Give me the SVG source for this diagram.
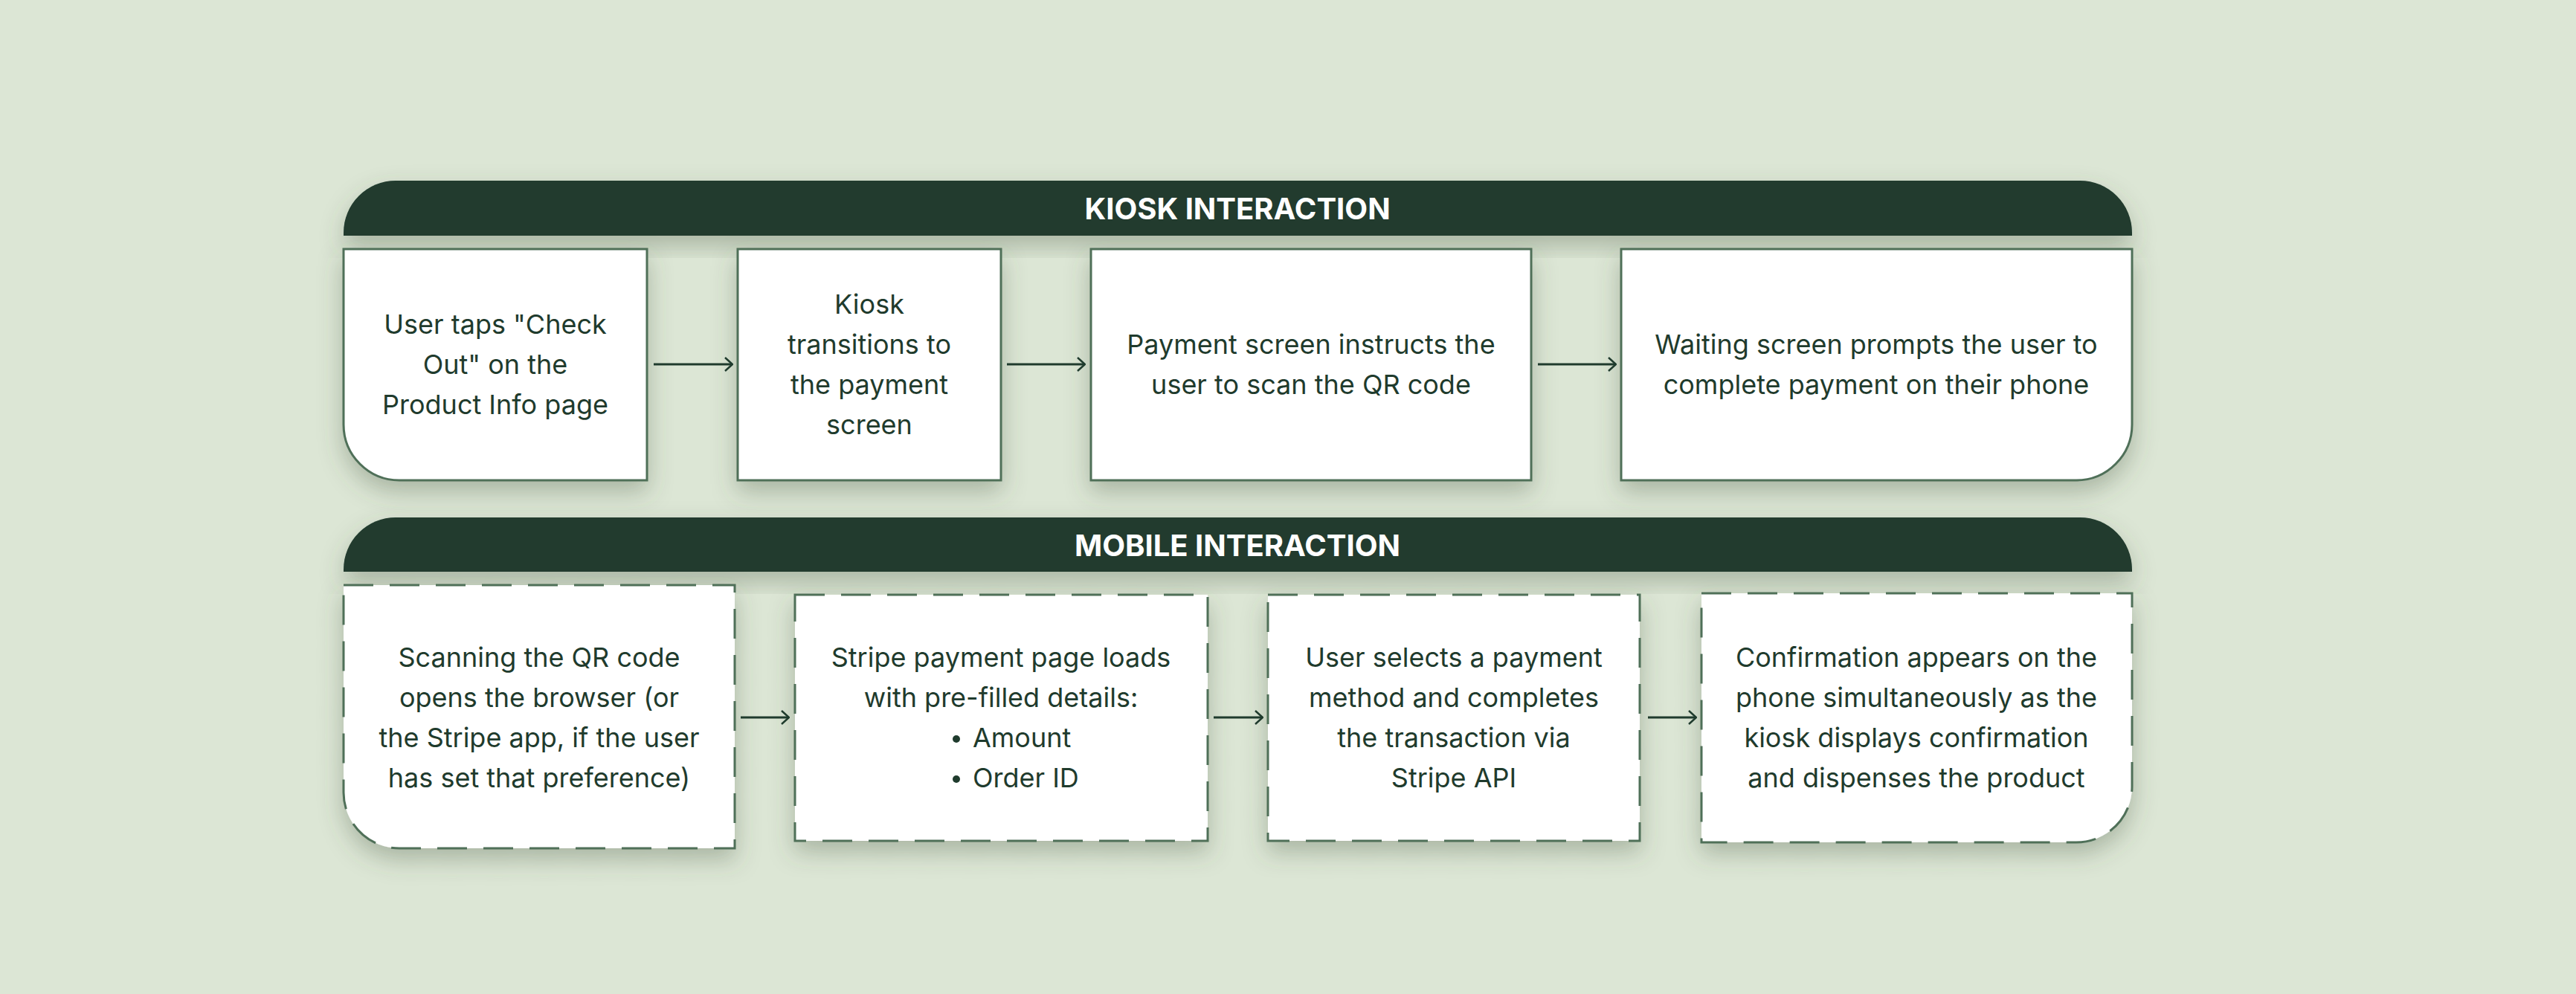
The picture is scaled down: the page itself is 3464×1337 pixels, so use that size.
<svg xmlns="http://www.w3.org/2000/svg" width="3464" height="1337" viewBox="0 0 3464 1337">
<style>
.bg{fill:#dce6d5}
.hdr{fill:#203b2e;filter:url(#sh)}
.ht{font-family:Inter,"Liberation Sans",sans-serif;font-weight:700;font-size:40px;fill:#ffffff;text-anchor:middle;dominant-baseline:central}
.box{fill:#ffffff;stroke:#4f6f59;stroke-width:3;filter:url(#sh)}
.dash{stroke-dasharray:40 22}
.t{font-family:Inter,"Liberation Sans",sans-serif;font-size:36px;fill:#1f3b2d;text-anchor:middle;dominant-baseline:central}
.tl{text-anchor:start}
.c{stroke:#1f3b2d;stroke-width:3;fill:none;marker-end:url(#ah)}
</style>
<defs>
<filter id="sh" x="-20%" y="-30%" width="140%" height="170%">
<feDropShadow dx="0" dy="14" stdDeviation="16" flood-color="#4a5a45" flood-opacity="0.35"/>
</filter>
<marker id="ah" viewBox="0 0 12 20" refX="11" refY="10" markerWidth="12" markerHeight="20" markerUnits="userSpaceOnUse" orient="auto">
<path d="M1,1 L11,10 L1,19" fill="none" stroke="#1f3b2d" stroke-width="2.5"/>
</marker>
</defs>
<rect class="bg" width="3464" height="1337"/>

<g id="kiosk-header">
<path class="hdr" d="M462,317 L462,313 A70,70 0 0 1 532,243 L2797,243 A70,70 0 0 1 2867,313 L2867,317 Z"/>
<text class="ht" x="1664" y="280">KIOSK INTERACTION</text>
</g>
<g id="k1">
<path class="box" d="M462,335 H870 V646 H537 A75,75 0 0 1 462,571 Z"/>
<text class="t" x="666" y="436">User taps "Check</text>
<text class="t" x="666" y="490">Out" on the</text>
<text class="t" x="666" y="544">Product Info page</text>
</g>
<g id="k2">
<rect class="box" x="992" y="335" width="354" height="311"/>
<text class="t" x="1169" y="409">Kiosk</text>
<text class="t" x="1169" y="463">transitions to</text>
<text class="t" x="1169" y="517">the payment</text>
<text class="t" x="1169" y="571">screen</text>
</g>
<g id="k3">
<rect class="box" x="1467" y="335" width="592" height="311"/>
<text class="t" x="1763" y="463">Payment screen instructs the</text>
<text class="t" x="1763" y="517">user to scan the QR code</text>
</g>
<g id="k4">
<path class="box" d="M2180,335 H2867 V571 A75,75 0 0 1 2792,646 H2180 Z"/>
<text class="t" x="2523" y="463">Waiting screen prompts the user to</text>
<text class="t" x="2523" y="517">complete payment on their phone</text>
</g>

<g id="mobile-header">
<path class="hdr" d="M462,769 L462,766 A70,70 0 0 1 532,696 L2797,696 A70,70 0 0 1 2867,766 L2867,769 Z"/>
<text class="ht" x="1664" y="733">MOBILE INTERACTION</text>
</g>
<g id="m1">
<path class="box dash" d="M462,787 H988 V1141 H537 A75,75 0 0 1 462,1066 Z"/>
<text class="t" x="725" y="884">Scanning the QR code</text>
<text class="t" x="725" y="938">opens the browser (or</text>
<text class="t" x="725" y="992">the Stripe app, if the user</text>
<text class="t" x="725" y="1046">has set that preference)</text>
</g>
<g id="m2">
<rect class="box dash" x="1069" y="800" width="555" height="331"/>
<text class="t" x="1346" y="884">Stripe payment page loads</text>
<text class="t" x="1346" y="938">with pre-filled details:</text>
<circle cx="1286" cy="994" r="5" fill="#1f3b2d"/>
<text class="t tl" x="1308" y="992">Amount</text>
<circle cx="1286" cy="1048" r="5" fill="#1f3b2d"/>
<text class="t tl" x="1308" y="1046">Order ID</text>
</g>
<g id="m3">
<rect class="box dash" x="1705" y="800" width="500" height="331"/>
<text class="t" x="1955" y="884">User selects a payment</text>
<text class="t" x="1955" y="938">method and completes</text>
<text class="t" x="1955" y="992">the transaction via</text>
<text class="t" x="1955" y="1046">Stripe API</text>
</g>
<g id="m4">
<path class="box dash" d="M2288,798 H2867 V1058 A75,75 0 0 1 2792,1133 H2288 Z"/>
<text class="t" x="2577" y="884">Confirmation appears on the</text>
<text class="t" x="2577" y="938">phone simultaneously as the</text>
<text class="t" x="2577" y="992">kiosk displays confirmation</text>
<text class="t" x="2577" y="1046">and dispenses the product</text>
</g>

<g id="connectors">
<line class="c" x1="879" y1="490" x2="985" y2="490"/>
<line class="c" x1="1354" y1="490" x2="1459" y2="490"/>
<line class="c" x1="2068" y1="490" x2="2173" y2="490"/>
<line class="c" x1="996" y1="965" x2="1061" y2="965"/>
<line class="c" x1="1632" y1="965" x2="1698" y2="965"/>
<line class="c" x1="2216" y1="965" x2="2281" y2="965"/>
</g>
</svg>
